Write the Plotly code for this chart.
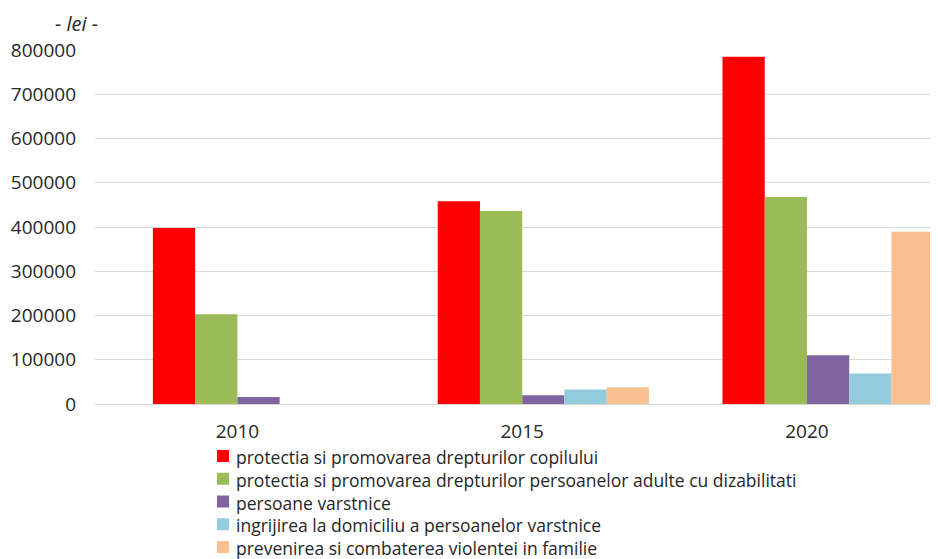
import plotly.graph_objects as go

years = ["2010", "2015", "2020"]
series_names = [
    "protectia si promovarea drepturilor copilului",
    "protectia si promovarea drepturilor persoanelor adulte cu dizabilitati",
    "persoane varstnice",
    "ingrijirea la domiciliu a persoanelor varstnice",
    "prevenirea si combaterea violentei in familie",
]
copil = [398000, 458000, 785000]
dizabilitati = [203000, 436000, 468000]
varstnice = [16000, 20000, 110000]
ingrijire = [None, 33000, 69000]
violenta = [None, 38000, 389000]
series_values = [copil, dizabilitati, varstnice, ingrijire, violenta]
colors = ["#FF0000", "#9BBB59", "#8064A2", "#93CDDD", "#FAC090"]
tick_vals = [0, 100000, 200000, 300000, 400000, 500000, 600000, 700000, 800000]

fig = go.Figure()
# empty leading slot (the source chart reserves a blank series position)
fig.add_trace(go.Bar(x=years, y=[None, None, None], showlegend=False,
                     hoverinfo="skip", marker_color="rgba(0,0,0,0)"))
for name, vals, col in zip(series_names, series_values, colors):
    fig.add_trace(go.Bar(x=years, y=vals, name=name, showlegend=False,
                         marker=dict(color=col, line=dict(width=0))))

# plot-area geometry in page pixels (used to place legend / unit label)
PLOT_L, PLOT_W = 95, 843
PLOT_B, PLOT_H = 404, 354


def px_x(x):
    return (x - PLOT_L) / PLOT_W


def px_y(y):
    return (PLOT_B - y) / PLOT_H


FONT = "Open Sans, Liberation Sans, Arial, sans-serif"
TXT = "#262626"

# legend block (drawn beneath the plot, one row per series)
LEG_FONT = 17.5
LEG_STEP = LEG_FONT * 1.3
LEG_TOP, SW_L, SW_SIZE, TXT_L = 456, 217, 12, 235
shapes = []
for i, col in enumerate(colors):
    yc = LEG_TOP + i * LEG_STEP
    shapes.append(dict(type="rect", xref="paper", yref="paper",
                       x0=px_x(SW_L), x1=px_x(SW_L + SW_SIZE),
                       y0=px_y(yc + SW_SIZE / 2), y1=px_y(yc - SW_SIZE / 2),
                       fillcolor=col, line=dict(width=0), layer="above"))

annotations = [
    dict(text="<br>".join(series_names), xref="paper", yref="paper",
         x=px_x(TXT_L), y=px_y(LEG_TOP + 2 * LEG_STEP + 1),
         xanchor="left", yanchor="middle", align="left", showarrow=False,
         borderpad=0, font=dict(size=LEG_FONT, color=TXT, family=FONT)),
    dict(text="<i>- lei -</i>", xref="paper", yref="paper",
         x=px_x(53), y=px_y(24), xanchor="left", yanchor="middle",
         showarrow=False, font=dict(size=20, color=TXT)),
]

fig.update_layout(
    width=930, height=559,
    margin=dict(l=87, r=0, t=42, b=163, autoexpand=False),
    paper_bgcolor="white", plot_bgcolor="white",
    barmode="group", bargap=0.11, bargroupgap=0,
    font=dict(family=FONT, color=TXT),
    showlegend=False,
    xaxis=dict(type="category", range=[-0.5, 2.46], showgrid=False,
               showline=True, linecolor="#D9D9D9", linewidth=1,
               tickfont=dict(size=19, color=TXT), ticks="",
               ticklabelstandoff=10),
    yaxis=dict(range=[0, 800000], tickvals=tick_vals,
               ticktext=[str(v) for v in tick_vals],
               showgrid=True, gridcolor="#D9D9D9", gridwidth=1,
               zeroline=True, zerolinecolor="#D9D9D9", zerolinewidth=1,
               showline=False, ticks="", ticklabelstandoff=18,
               tickfont=dict(size=19, color=TXT)),
    shapes=shapes,
    annotations=annotations,
)

fig.write_html("out.html")
